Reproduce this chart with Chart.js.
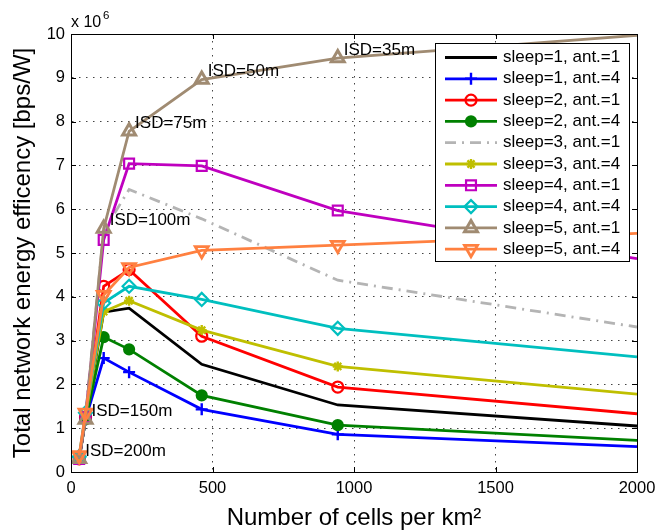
<!DOCTYPE html>
<html><head><meta charset="utf-8">
<script src="https://cdn.jsdelivr.net/npm/chart.js@4"></script>
<style>html,body{margin:0;padding:0;background:#fff}</style>
</head><body>
<canvas id="c" width="672" height="531" style="display:block;width:672px;height:531px"></canvas>
<script>
// ---- data ----
const cellsPerKm2 = [28.9, 51.3, 115.5, 205.3, 461.9, 942.6, 2000];
const isdLabels   = ['ISD=200m', 'ISD=150m', 'ISD=100m', 'ISD=75m', 'ISD=50m', 'ISD=35m'];
const xTicks = [0, 500, 1000, 1500, 2000];
const yTicks = [0, 1, 2, 3, 4, 5, 6, 7, 8, 9, 10];
const seriesNames = ['sleep=1, ant.=1','sleep=1, ant.=4','sleep=2, ant.=1','sleep=2, ant.=4','sleep=3, ant.=1',
                     'sleep=3, ant.=4','sleep=4, ant.=1','sleep=4, ant.=4','sleep=5, ant.=1','sleep=5, ant.=4'];
const s1a1 = [0.30, 1.20, 3.65, 3.74, 2.46, 1.53, 1.05];
const s1a4 = [0.30, 1.20, 2.60, 2.28, 1.43, 0.86, 0.58];
const s2a1 = [0.30, 1.25, 4.24, 4.62, 3.10, 1.94, 1.33];
const s2a4 = [0.30, 1.20, 3.08, 2.80, 1.75, 1.07, 0.72];
const s3a1 = [0.30, 1.30, 5.50, 6.45, 5.78, 4.38, 3.31];
const s3a4 = [0.35, 1.30, 3.66, 3.91, 3.24, 2.41, 1.78];
const s4a1 = [0.30, 1.25, 5.30, 7.04, 6.99, 5.97, 4.87];
const s4a4 = [0.35, 1.35, 3.86, 4.24, 3.94, 3.28, 2.63];
const s5a1 = [0.30, 1.20, 5.56, 7.78, 8.96, 9.45, 9.97];
const s5a4 = [0.38, 1.35, 4.04, 4.67, 5.06, 5.18, 5.45];
const allSeries = [s1a1, s1a4, s2a1, s2a4, s3a1, s3a4, s4a1, s4a4, s5a1, s5a4];

// ---- styles ----
const FONT = "'Liberation Sans', Arial, Helvetica, sans-serif";
const styles = [
  {color:'#000000', style:false,      r:0,   fill:'transparent', dash:[],        bw:2.2},
  {color:'#0000ff', style:'cross',    r:6,   fill:'transparent', dash:[],        bw:2.4},
  {color:'#ff0000', style:'circle',   r:5.5, fill:'transparent', dash:[],        bw:2.2},
  {color:'#008000', style:'circle',   r:5,   fill:'#008000',     dash:[],        bw:2.2},
  {color:'#b4b4b4', style:false,      r:0,   fill:'transparent', dash:[11,6,2,6],bw:2.2},
  {color:'#bfbf00', style:'star',     r:5,   fill:'transparent', dash:[],        bw:2.4},
  {color:'#bf00bf', style:'rect',     r:7,   fill:'transparent', dash:[],        bw:2.2},
  {color:'#00bfbf', style:'rectRot',  r:6.5, fill:'transparent', dash:[],        bw:2.2},
  {color:'#a08b72', style:'triangle', r:7.5, fill:'transparent', dash:[],        bw:3},
  {color:'#ff8040', style:'triangle', r:7.5, fill:'transparent', dash:[],        bw:2.8, rot:180}
];

const datasets = allSeries.map((vals, i) => {
  const st = styles[i];
  const last = vals.length - 1;
  return {
    label: seriesNames[i],
    data: vals.map((v, k) => ({x: cellsPerKm2[k], y: v})),
    showLine: true,
    borderColor: st.color,
    backgroundColor: st.fill,
    borderWidth: 2.8,
    borderDash: st.dash,
    pointStyle: st.style || 'circle',
    pointRadius: ctx => (st.style && ctx.dataIndex !== last) ? st.r : 0,
    pointBorderWidth: st.bw,
    pointBorderColor: st.color,
    pointBackgroundColor: st.fill,
    pointRotation: st.rot || 0,
    tension: 0,
    order: 20 - i
  };
});

const L = 71, R = 637, T = 34, B = 472;

const framePlugin = {
  id: 'frame',
  afterDatasetsDraw(chart) {
    const ctx = chart.ctx, xs = chart.scales.x, ys = chart.scales.y;
    ctx.save();
    ctx.fillStyle = '#000';
    ctx.font = '17px ' + FONT;
    ctx.textAlign = 'left';
    ctx.textBaseline = 'middle';
    isdLabels.forEach((t, i) => {
      ctx.fillText(t, xs.getPixelForValue(cellsPerKm2[i]) + 6, ys.getPixelForValue(s5a1[i]) - 8);
    });
    ctx.restore();
  },
  afterDraw(chart) {
    const ctx = chart.ctx, xs = chart.scales.x, ys = chart.scales.y;
    const a = chart.chartArea;
    ctx.save();
    ctx.strokeStyle = '#000';
    ctx.lineWidth = 1;
    ctx.setLineDash([]);
    ctx.strokeRect(Math.round(a.left) + 0.5, Math.round(a.top) + 0.5,
                   Math.round(a.right - a.left), Math.round(a.bottom - a.top));
    ctx.beginPath();
    xTicks.forEach(v => {
      const px = Math.round(xs.getPixelForValue(v)) + 0.5;
      ctx.moveTo(px, a.bottom); ctx.lineTo(px, a.bottom - 5);
      ctx.moveTo(px, a.top); ctx.lineTo(px, a.top + 5);
    });
    yTicks.forEach(v => {
      const py = Math.round(ys.getPixelForValue(v)) + 0.5;
      ctx.moveTo(a.left, py); ctx.lineTo(a.left + 5, py);
      ctx.moveTo(a.right, py); ctx.lineTo(a.right - 5, py);
    });
    ctx.stroke();
    ctx.fillStyle = '#000';
    ctx.textAlign = 'left';
    ctx.textBaseline = 'alphabetic';
    ctx.font = '16px ' + FONT;
    ctx.fillText('x 10', 71, 27);
    ctx.font = '11.5px ' + FONT;
    ctx.fillText('6', 103, 19);

    const lx = 435, ly = 43, lw = 194, lh = 218;
    ctx.fillStyle = '#fff';
    ctx.fillRect(lx, ly, lw, lh);
    ctx.strokeStyle = '#000';
    ctx.lineWidth = 1;
    ctx.strokeRect(lx + 0.5, ly + 0.5, lw, lh);
    datasets.forEach((ds, i) => {
      const st = styles[i];
      const y = 57.5 + i * 21.3;
      ctx.save();
      ctx.strokeStyle = st.color;
      ctx.lineWidth = 2.8;
      ctx.setLineDash(st.dash);
      ctx.beginPath();
      ctx.moveTo(445, y); ctx.lineTo(497, y);
      ctx.stroke();
      ctx.setLineDash([]);
      if (st.style && Chart.helpers && Chart.helpers.drawPoint) {
        ctx.fillStyle = st.fill;
        ctx.strokeStyle = st.color;
        ctx.lineWidth = st.bw;
        Chart.helpers.drawPoint(ctx, {pointStyle: st.style, radius: st.r, rotation: st.rot || 0, borderWidth: st.bw}, 471, y);
      }
      ctx.restore();
      ctx.fillStyle = '#000';
      ctx.font = '17px ' + FONT;
      ctx.textAlign = 'left';
      ctx.textBaseline = 'middle';
      ctx.fillText(ds.label, 503, y);
    });
    ctx.restore();
  }
};

new Chart(document.getElementById('c'), {
  type: 'scatter',
  data: {datasets},
  plugins: [framePlugin],
  options: {
    responsive: false,
    devicePixelRatio: 1,
    animation: false,
    events: [],
    layout: {padding: {left: 0, right: 672 - R, top: T, bottom: 0}},
    plugins: {legend: {display: false}, tooltip: {enabled: false}},
    scales: {
      x: {
        type: 'linear', min: 0, max: 2000,
        afterBuildTicks: s => { s.ticks = xTicks.map(v => ({value: v})); },
        ticks: {callback: v => String(v), color: '#000', font: {family: FONT, size: 16.5}, padding: 7, maxRotation: 0, autoSkip: false},
        grid: {color: '#444', lineWidth: 1, drawTicks: false},
        border: {display: true, color: '#000', width: 1, dash: [1.5, 5.5]},
        title: {display: true, text: 'Number of cells per km²', color: '#000',
                font: {family: FONT, size: 24, lineHeight: 1}, padding: {top: 0, bottom: 0.5}},
        afterFit: s => { s.height = 531 - B; }
      },
      y: {
        type: 'linear', min: 0, max: 10,
        afterBuildTicks: s => { s.ticks = yTicks.map(v => ({value: v})); },
        ticks: {callback: v => String(v), color: '#000', font: {family: FONT, size: 16.5}, padding: 6, autoSkip: false},
        grid: {color: '#444', lineWidth: 1, drawTicks: false},
        border: {display: true, color: '#000', width: 1, dash: [1.5, 5.5]},
        title: {display: true, text: 'Total network energy efficency [bps/W]', color: '#000',
                font: {family: FONT, size: 24, lineHeight: 1}, padding: {top: 11.5, bottom: 0}},
        afterFit: s => { s.width = L; }
      }
    }
  }
});
</script>
</body></html>
